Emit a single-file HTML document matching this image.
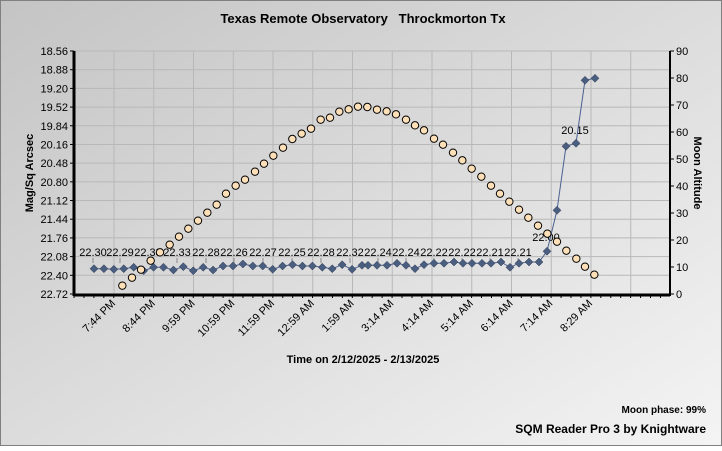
<!DOCTYPE html>
<html><head><meta charset="utf-8"><style>
body{margin:0;width:722px;height:446px;overflow:hidden;font-family:"Liberation Sans",Arial,sans-serif}
</style></head><body>
<svg id="s" width="722" height="446" xmlns="http://www.w3.org/2000/svg" font-family="Liberation Sans, Arial, sans-serif">
<defs>
<linearGradient id="bg" x1="0" y1="0" x2="1" y2="1"><stop offset="0" stop-color="#c4c4c4"/><stop offset="1" stop-color="#f4f4f4"/></linearGradient>
</defs>
<rect x="0" y="0" width="722" height="446" fill="url(#bg)"/>
<rect x="0.5" y="0.5" width="721" height="445" fill="none" stroke="#808080"/>
<text x="363" y="23" text-anchor="middle" font-size="13" font-weight="bold" xml:space="preserve">Texas Remote Observatory   Throckmorton Tx</text>
<g id="g"></g>
<text x="363" y="363" text-anchor="middle" font-size="11" font-weight="bold">Time on 2/12/2025 - 2/13/2025</text>
<text x="706" y="413" text-anchor="end" font-size="10" font-weight="bold">Moon phase: 99%</text>
<text x="706" y="433" text-anchor="end" font-size="12" font-weight="bold">SQM Reader Pro 3 by Knightware</text>
<text transform="translate(33,173) rotate(-90)" text-anchor="middle" font-size="11" font-weight="bold">Mag/Sq Arcsec</text>
<text transform="translate(694,173) rotate(90)" text-anchor="middle" font-size="11" font-weight="bold">Moon Altitude</text>
</svg>
<script>
var g=document.getElementById('g'),h='';
var L=74,R=670,T=51,B=294;
for(var i=0;i<14;i++){var x=114+i*39.75;h+='<line x1="'+x+'" y1="'+T+'" x2="'+x+'" y2="'+B+'" stroke="#b8b8b8"/>';}
var lv=['18.56','18.88','19.20','19.52','19.84','20.16','20.48','20.80','21.12','21.44','21.76','22.08','22.40','22.72'];
for(var i=0;i<14;i++){var y=T+i*(B-T)/13;h+='<line x1="'+L+'" y1="'+y+'" x2="'+R+'" y2="'+y+'" stroke="#b8b8b8"/>';
h+='<text x="68" y="'+(y+4)+'" text-anchor="end" font-size="11">'+lv[i]+'</text><line x1="70" y1="'+y+'" x2="74" y2="'+y+'" stroke="#000"/>';}
for(var i=0;i<10;i++){var y=T+i*(B-T)/9;h+='<text x="676" y="'+(y+4)+'" font-size="11">'+(90-i*10)+'</text><line x1="670" y1="'+y+'" x2="674" y2="'+y+'" stroke="#000"/>';}
for(var i=0;i<60;i++){var x=L+i*9.94;if(x>R)break;h+='<line x1="'+x+'" y1="'+B+'" x2="'+x+'" y2="'+(B+4)+'" stroke="#000"/>';}
h+='<line x1="'+L+'" y1="'+T+'" x2="'+L+'" y2="'+(B+2)+'" stroke="#000" stroke-width="3"/>';
h+='<line x1="'+L+'" y1="'+(B+1)+'" x2="'+R+'" y2="'+(B+1)+'" stroke="#000" stroke-width="3"/>';
h+='<line x1="'+R+'" y1="'+T+'" x2="'+R+'" y2="'+(B+2)+'" stroke="#000" stroke-width="2"/>';
var xl=['7:44 PM','8:44 PM','9:59 PM','10:59 PM','11:59 PM','12:59 AM','1:59 AM','3:14 AM','4:14 AM','5:14 AM','6:14 AM','7:14 AM','8:29 AM'];
for(var i=0;i<13;i++){var x=116+i*39.75;h+='<text transform="translate('+x+',304) rotate(-45)" text-anchor="end" font-size="11">'+xl[i]+'</text>';}
// orange
var o1=[[367,767],[396,743],[423,719],[452,692],[480,667],[509,644],[537,620],[565,596],[594,572],[622,548],[650,524],[678,491],[707,467],[735,449],[765,425],[792,401],[820,377],[849,353],[877,327],[905,311],[933,296],[962,269],[990,263],[1018,245],[1046,238],[1074,230]];
var o2=[[22,231],[51,239],[80,244],[108,253],[138,269],[165,286],[192,301],[222,326],[249,344],[279,368],[307,391],[335,416],[364,440],[393,467],[420,491],[448,515],[477,539],[505,563],[534,587],[562,611],[591,635],[619,662],[649,686],[675,710],[703,734]];
var op=o1.map(function(p){return[p[0]/3,p[1]/3+30]}).concat(o2.map(function(p){return[360+p[0]/3,p[1]/3+30]}));
// blue
var by1=[268.7,268.7,269.3,268.7,267.3,270.7,267.3,267.3,270,266.7,270.7,267.3,270,266,266,264,266,266,269.3,266,264.7,266,266,267.3,268.7,264.7,269.3,265.3];
var bx2=[368,377,387,397,406,415,424,434,444,454,463,472,482,491,501,510,519,529,539,547,557,566,576,585,595];
var by2=[265.3,265.3,265.3,263.3,265.3,268.7,264.7,263.3,263.3,262,263.3,263.3,263.3,263.3,262,267.3,263.3,262,262,251.3,210.3,146.3,143.3,80.3,78.3];
var bp=[];for(var i=0;i<28;i++)bp.push([94+i*268/27,by1[i]]);for(var i=0;i<bx2.length;i++)bp.push([bx2[i],by2[i]]);
// labels
var lb=[[93,'22.30'],[120,'22.29'],[148,'22.33'],[177,'22.33'],[206,'22.28'],[234,'22.26'],[263,'22.27'],[292,'22.25'],[321,'22.28'],[350,'22.32'],[378,'22.24'],[406,'22.24'],[434,'22.22'],[462,'22.22'],[490,'22.21'],[518,'22.21']];
lb.forEach(function(l){h+='<line x1="'+l[0]+'" y1="258" x2="'+l[0]+'" y2="263" stroke="#888"/><text x="'+l[0]+'" y="256" text-anchor="middle" font-size="11">'+l[1]+'</text>';});
h+='<text x="546" y="241" text-anchor="middle" font-size="11">22.00</text><text x="575" y="134" text-anchor="middle" font-size="11">20.15</text>';
h+='<polyline fill="none" stroke="#4a6090" stroke-width="1" points="'+bp.map(function(p){return p.join(',')}).join(' ')+'"/>';
bp.forEach(function(p){h+='<polygon points="'+p[0]+','+(p[1]-4)+' '+(p[0]+4)+','+p[1]+' '+p[0]+','+(p[1]+4)+' '+(p[0]-4)+','+p[1]+'" fill="#4a5e80" stroke="#2a3550" stroke-width="0.5"/>';});
op.forEach(function(p){h+='<circle cx="'+p[0]+'" cy="'+p[1]+'" r="3.7" fill="#fde0b8" stroke="#000" stroke-width="1"/>';});
g.innerHTML=h;
</script>
</body></html>
